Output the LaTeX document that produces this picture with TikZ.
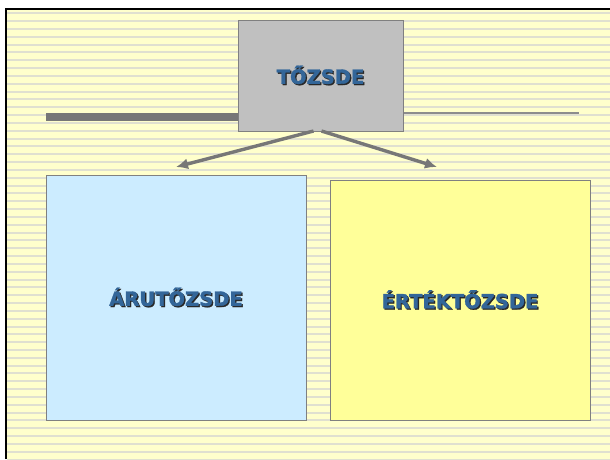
\documentclass[tikz,border=0pt]{standalone}
\usepackage{fontspec}
\setmainfont{DejaVu Sans}[BoldFeatures={FakeBold=1.6}]
\usepackage{tikz}
\usetikzlibrary{arrows.meta,positioning}

\definecolor{slidebg}{RGB}{255,255,204}
\definecolor{stripe}{RGB}{224,224,208}
\definecolor{boxgray}{RGB}{192,192,192}
\definecolor{edgegray}{RGB}{128,128,128}
\definecolor{arrowgray}{RGB}{119,119,119}
\definecolor{lightblue}{RGB}{204,236,255}
\definecolor{lightyellow}{RGB}{255,255,153}
\definecolor{titleblue}{RGB}{51,102,153}
\definecolor{txtshadow}{RGB}{40,40,40}

\newcommand\shadetext[1]{\makebox[0pt][l]{\kern1.3pt\raisebox{-1.3pt}{\color{txtshadow}#1}}#1}

\begin{document}
\begin{tikzpicture}[x=1pt,y=-1pt,  boxnode/.style={draw=edgegray, line width=1pt, inner sep=0pt, outer sep=0pt, text=titleblue, font=\fontsize{19.5}{22}\selectfont\bfseries},  link/.style={draw=arrowgray, line width=3.4pt, -{Latex[length=12pt,width=11pt]}},  ]

  \useasboundingbox (0,0) rectangle (610,459);
  \fill[white] (0,0) rectangle (610,459);
  \fill[slidebg] (5,8) rectangle (610,459);
  \foreach \y in {0,...,57}
    \fill[stripe] (7,{12.3+7.83*\y}) rectangle (610,{14.3+7.83*\y});
  \draw[black, line width=2.2pt] (6,459) -- (6,9) -- (610,9);

  % rules beside the top box
  \fill[arrowgray] (46,113) rectangle (238,121);
  \draw[edgegray!90, line width=1.3pt] (403,113) -- (579,113);

  \node[boxnode, fill=boxgray, minimum width=165pt, minimum height=111pt] (tozsde) at (320.5,75.5) {\shadetext{TŐZSDE}};
  \node[boxnode, fill=lightblue, minimum width=260pt, minimum height=245pt] (aru) at (176,297.5) {\shadetext{ÁRUTŐZSDE}};
  \node[boxnode, fill=lightyellow, minimum width=260pt, minimum height=240pt] (ertek) at (460,300) {\shadetext{ÉRTÉKTŐZSDE}};

  \coordinate (aruend) at ([yshift=8pt]aru.north);
  \coordinate (ertekend) at ([xshift=-23pt,yshift=13pt]ertek.north);

  \draw[link] ([xshift=-7pt]tozsde.south) -- (aruend);
  \draw[link] ([xshift=1pt]tozsde.south) -- (ertekend);
\end{tikzpicture}
\end{document}
